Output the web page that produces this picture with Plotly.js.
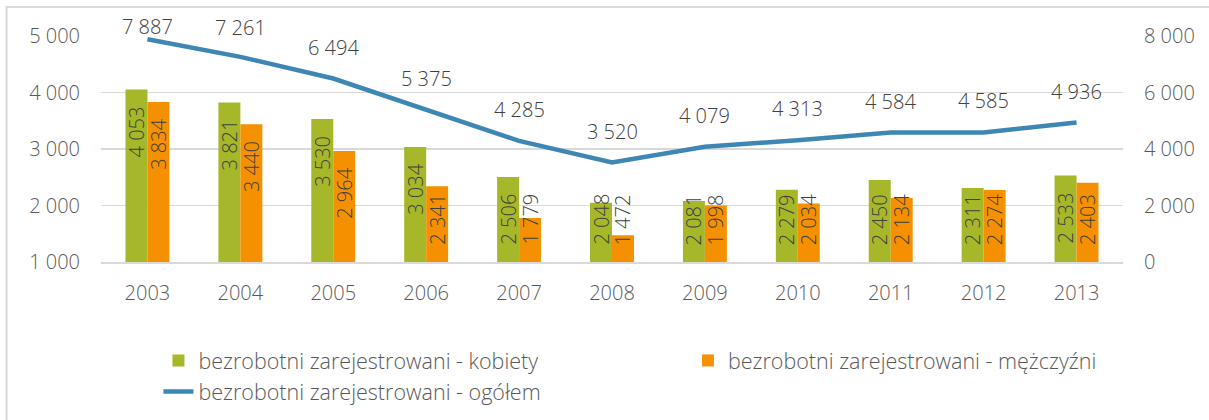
<!DOCTYPE html>
<html>
<head>
<meta charset="utf-8">
<script src="https://cdn.plot.ly/plotly-3.0.1.min.js"></script>
<style>
html,body{margin:0;padding:0;background:#fff;}
#chart{width:1209px;height:420px;}
</style>
</head>
<body>
<div id="chart"></div>
<script>
// ---- data ----
var years = [2003, 2004, 2005, 2006, 2007, 2008, 2009, 2010, 2011, 2012, 2013];
var kobiety = [4053, 3821, 3530, 3034, 2506, 2048, 2081, 2279, 2450, 2311, 2533];
var mezczyzni = [3834, 3440, 2964, 2341, 1779, 1472, 1998, 2034, 2134, 2274, 2403];
var ogolem = [7887, 7261, 6494, 5375, 4285, 3520, 4079, 4313, 4584, 4585, 4936];
var seriesNames = [
  'bezrobotni zarejestrowani - kobiety',
  'bezrobotni zarejestrowani - mężczyźni',
  'bezrobotni zarejestrowani - ogółem'
];

// ---- style / layout constants ----
var GREEN = '#A6B729', ORANGE = '#F59100', BLUE = '#3E87B4';
var TXT = '#595959', LBL = '#404040', GRID = '#D9D9D9';
var FONT = 'Open Sans, Lato, sans-serif';
var FW = 300;
var M = {l: 100.5, r: 85.5, t: 36, b: 158, autoexpand: false};
var W = 1209, Hh = 420;
var PW = W - M.l - M.r;
var PH = Hh - M.t - M.b;          // plot height in px
var YL = [1000, 5000], YR = [0, 8000];
var BAR_OFF = 0.1183;              // half of one bar width (category units)

function fmt(v) { return String(v).replace(/\B(?=(\d{3})+(?!\d))/g, ' '); }
function pxL(v) { return M.t + (YL[1] - v) * PH / (YL[1] - YL[0]); }
function valL(px) { return YL[1] - (px - M.t) * (YL[1] - YL[0]) / PH; }
function pxR(v) { return M.t + (YR[1] - v) * PH / (YR[1] - YR[0]); }

var traces = [
  {type: 'bar', name: seriesNames[0], x: years, y: kobiety,
   marker: {color: GREEN}, hoverinfo: 'x+y', legend: 'legend', legendgroup: 'a'},
  {type: 'bar', name: seriesNames[1], x: years, y: mezczyzni,
   marker: {color: ORANGE}, hoverinfo: 'x+y', legend: 'legend2', legendgroup: 'c'},
  {type: 'scatter', mode: 'lines', name: seriesNames[2], x: years, y: ogolem,
   yaxis: 'y2', line: {color: BLUE, width: 4.5}, hoverinfo: 'x+y',
   legend: 'legend', legendgroup: 'b'}
];

var annotations = [];
var LEN = 52, baseLimit = pxL(YL[0]) - 17;
function barLabel(vals, dx) {
  vals.forEach(function (v, i) {
    var top = pxL(v) + 16;
    if (top + LEN > baseLimit) top = baseLimit - LEN;
    annotations.push({
      x: years[i] + dx, y: valL(top), xref: 'x', yref: 'y',
      text: fmt(v), showarrow: false, textangle: -90,
      xanchor: 'center', yanchor: 'top', borderpad: 0,
      font: {family: FONT, size: 20, color: LBL, weight: FW}
    });
  });
}
barLabel(kobiety, -BAR_OFF);
barLabel(mezczyzni, BAR_OFF);
ogolem.forEach(function (v, i) {
  var p = pxR(v);
  var c = Math.max(p - 31.5, 27);
  annotations.push({
    x: years[i], y: v, xref: 'x', yref: 'y2', yshift: p - c,
    text: fmt(v), showarrow: false, xanchor: 'center', yanchor: 'middle',
    font: {family: FONT, size: 20, color: LBL, weight: FW}
  });
});

var legendFont = {family: FONT, size: 21.5, color: TXT, weight: FW};
var LEG_Y = -0.345;

var layout = {
  width: W, height: Hh,
  margin: M,
  paper_bgcolor: '#fff', plot_bgcolor: '#fff',
  separators: ', ',
  font: {family: FONT, size: 20, color: TXT, weight: FW},
  barmode: 'group', bargap: 0.527, bargroupgap: 0,
  showlegend: true,
  xaxis: {
    range: [2002.5, 2013.5], tickmode: 'array', tickvals: years,
    ticktext: years.map(String), showgrid: false, zeroline: false,
    showline: true, linecolor: GRID, linewidth: 1.5, ticks: '',
    ticklabelstandoff: 12, tickfont: {family: FONT, size: 20, color: TXT, weight: FW},
    fixedrange: true
  },
  yaxis: {
    range: YL, dtick: 1000, tick0: 0, tickformat: ',d',
    showgrid: true, gridcolor: GRID, gridwidth: 1.5, zeroline: false,
    showline: false, ticks: '', ticklabelstandoff: 20,
    tickfont: {family: FONT, size: 20, color: TXT, weight: FW}, fixedrange: true
  },
  yaxis2: {
    range: YR, dtick: 2000, tick0: 0, tickformat: ',d',
    overlaying: 'y', side: 'right', showgrid: false, zeroline: false,
    showline: false, ticks: '', ticklabelstandoff: 20,
    tickfont: {family: FONT, size: 20, color: TXT, weight: FW}, fixedrange: true
  },
  legend: {
    orientation: 'v', x: (158 - M.l) / PW, xanchor: 'left', y: LEG_Y, yanchor: 'top',
    tracegroupgap: 14, font: legendFont, traceorder: 'normal',
    bgcolor: 'rgba(0,0,0,0)'
  },
  legend2: {
    orientation: 'v', x: (688 - M.l) / PW, xanchor: 'left', y: LEG_Y, yanchor: 'top',
    font: legendFont, bgcolor: 'rgba(0,0,0,0)'
  },
  annotations: annotations,
  shapes: [{
    type: 'rect', xref: 'paper', yref: 'paper', layer: 'below',
    x0: (6 - M.l) / PW, x1: 1.2,
    y0: -1.2, y1: (Hh - M.b - 7) / PH,
    line: {color: GRID, width: 2}, fillcolor: 'rgba(0,0,0,0)'
  }]
};

Plotly.newPlot('chart', traces, layout, {displayModeBar: false, staticPlot: true});
</script>
</body>
</html>
